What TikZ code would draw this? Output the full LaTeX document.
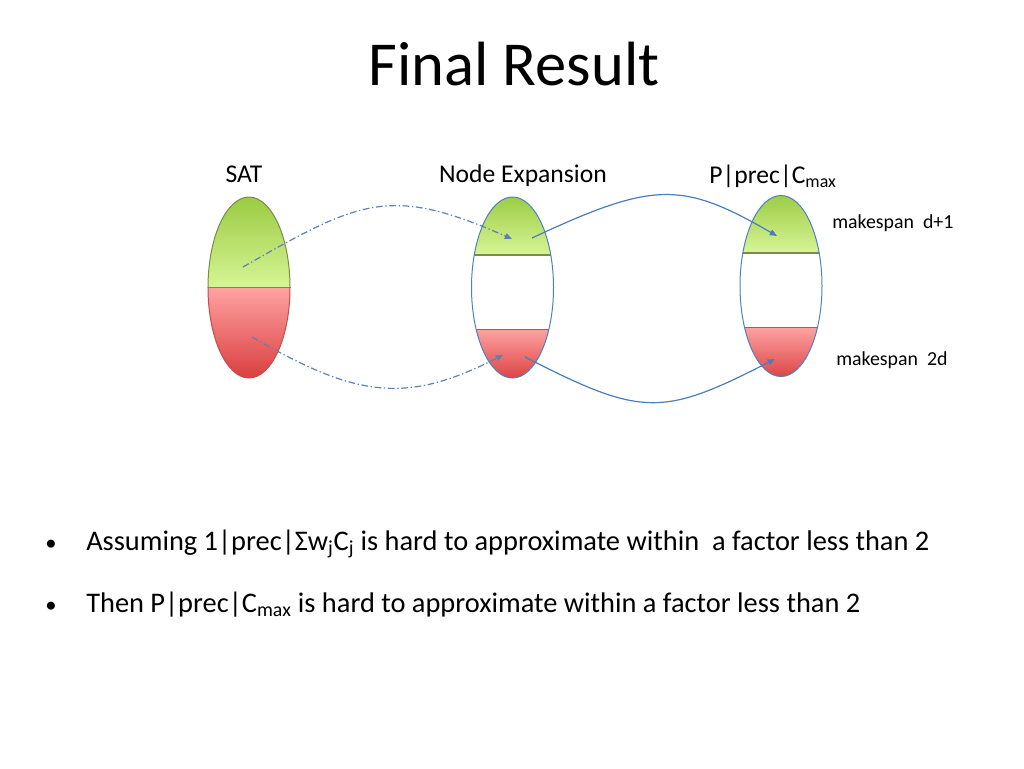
\documentclass[tikz,border=0pt]{standalone}
\usepackage{fontspec}
\setmainfont{Carlito}
\usetikzlibrary{arrows.meta,shapes.geometric}
\definecolor{gtop}{RGB}{150,200,60}
\definecolor{gbot}{RGB}{215,245,150}
\definecolor{rtop}{RGB}{255,162,162}
\definecolor{rbot}{RGB}{215,55,55}
\definecolor{gedge}{RGB}{122,140,72}
\definecolor{redge}{RGB}{192,80,77}
\definecolor{outl}{RGB}{79,129,189}
\definecolor{arr}{RGB}{74,126,187}
\definecolor{arrdd}{RGB}{95,130,180}
\tikzset{
  oval/.style={ellipse, minimum width=61.5pt, minimum height=135.75pt, inner sep=0pt},
  rim/.style={line width=0.75pt, x radius=30.75pt, y radius=67.875pt},
  lbl/.style={anchor=base, font=\fontsize{19.2}{22}\selectfont},
  note/.style={anchor=base west, inner sep=0pt, font=\fontsize{14.9}{17}\selectfont},
  btxt/.style={anchor=base west, inner sep=0pt, font=\fontsize{21.3}{25}\selectfont},
  hint/.style={draw=arrdd, line width=0.9pt, dash pattern=on 5pt off 2pt on 1pt off 2pt,
    -{Triangle[length=5.5pt,width=4.5pt]}},
  link/.style={draw=arr, line width=0.9pt, -{Triangle[length=5.5pt,width=4.5pt]}}
}
\begin{document}
\begin{tikzpicture}[x=0.75pt,y=-0.75pt]
\useasboundingbox (0,0) rectangle (1024,768);
% title
\node[anchor=base] (title) at (514,85) {\fontsize{46.9}{50}\selectfont Final Result};
% column labels
\node[lbl] (satlbl) at (244,182) {SAT};
\node[lbl] (explbl) at (523,182) {Node Expansion};
\node[lbl] (prelbl) at (773,183) {P|prec|C\textsubscript{max}};
\node[note] (mkhigh) at (832,228) {makespan\ \ d+1};
\node[note] (mklow) at (836,365) {makespan\ \ 2d};
% ovals
\node[oval] (sat) at (249,287.5) {};
\node[oval] (exp) at (512.5,287.5) {};
\node[oval] (pre) at (781,286) {};
% SAT: green and red halves
\begin{scope}
  \clip (sat.center) ellipse [rim];
  \shade[top color=gtop, bottom color=gbot] (200,190) rectangle (300,287.5);
  \shade[top color=rtop, bottom color=rbot] (200,287.5) rectangle (300,385);
  \draw[gedge, line width=0.9pt] (200,287.5) -- (300,287.5);
\end{scope}
\begin{scope}
  \clip (200,190) rectangle (300,287.5);
  \draw[gedge, rim] (sat.center) ellipse [rim];
\end{scope}
\begin{scope}
  \clip (200,287.5) rectangle (300,385);
  \draw[redge, rim] (sat.center) ellipse [rim];
\end{scope}
% Node Expansion
\begin{scope}
  \clip (exp.center) ellipse [rim];
  \shade[top color=gtop, bottom color=gbot] (465,190) rectangle (560,255);
  \shade[top color=rtop, bottom color=rbot] (465,329) rectangle (560,385);
  \draw[gedge, line width=0.9pt] (465,255) -- (560,255);
  \draw[redge, line width=0.75pt] (465,329) -- (560,329);
\end{scope}
\draw[outl, rim] (exp.center) ellipse [rim];
% P|prec|Cmax
\begin{scope}
  \clip (pre.center) ellipse [rim];
  \shade[top color=gtop, bottom color=gbot] (735,188) rectangle (830,253);
  \shade[top color=rtop, bottom color=rbot] (735,327) rectangle (830,385);
  \draw[gedge, line width=0.9pt] (735,253) -- (830,253);
  \draw[redge, line width=0.75pt] (735,327) -- (830,327);
\end{scope}
\draw[outl, rim] (pre.center) ellipse [rim];
% arrow ends
\coordinate (satG) at (243,267);
\coordinate (satR) at (252,337);
\coordinate (expGin) at (512,239);
\coordinate (expRin) at (503,355);
\coordinate (expGout) at (532,238);
\coordinate (expRout) at (525,357);
\coordinate (preG) at (777,236);
\coordinate (preR) at (775,359);
\draw[hint] (satG) .. controls (360,200) and (390,185) .. (expGin);
\draw[hint] (satR) .. controls (356,397) and (405,405) .. (expRin);
\draw[link] (expGout) .. controls (654,181) and (682,181) .. (preG);
\draw[link] (expRout) .. controls (642,417) and (662,417) .. (preR);
% bullets
\node[btxt, anchor=base, font=\fontsize{17}{20}\selectfont] (dot1) at (51,550) {•};
\node[btxt] (line1) at (86,550) {Assuming 1|prec|Σw\textsubscript{j}C\textsubscript{j} is hard to approximate within\ \ a factor less than 2};
\node[btxt, anchor=base, font=\fontsize{17}{20}\selectfont] (dot2) at (51,612) {•};
\node[btxt] (line2) at (86,612) {Then P|prec|C\textsubscript{max} is hard to approximate within a factor less than 2};
\end{tikzpicture}
\end{document}
